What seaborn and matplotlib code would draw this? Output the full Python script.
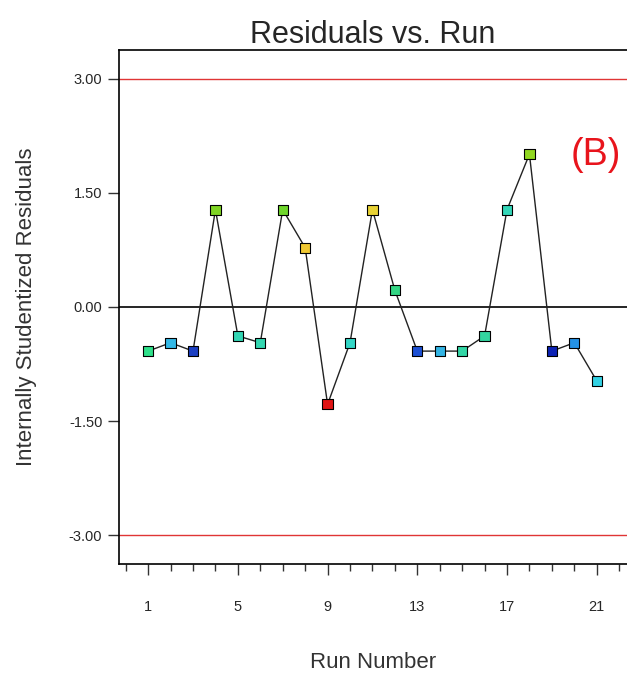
import numpy as np
import pandas as pd
import matplotlib
matplotlib.use('Agg')
import matplotlib.pyplot as plt
import seaborn as sns
from matplotlib.ticker import MultipleLocator

# Datos
runs = list(range(1, 22))
residuals = [-0.58, -0.47, -0.58, 1.28, -0.38, -0.47, 1.28, 0.78, -1.28, -0.47,
             1.28, 0.22, -0.58, -0.58, -0.58, -0.38, 1.28, 2.01, -0.58, -0.47, -0.97]
point_colors = ['#2fe08a', '#33b8e6', '#1c3fc2', '#7fd424', '#33d6b4', '#33d6b0',
                '#6fd62c', '#f0c832', '#e01414', '#33d6c6', '#e8d234', '#33d684',
                '#1c50d4', '#33b4e4', '#33d6a6', '#33d6a0', '#33d6b8', '#92d822',
                '#0c22b4', '#2492e6', '#33d2e4']
y_ticks = [-3.0, -1.5, 0.0, 1.5, 3.0]
x_ticks = [1, 5, 9, 13, 17, 21]
limit = 3.0

df = pd.DataFrame({'run': runs, 'residual': residuals})

sns.set_style('white')
plt.rcParams['font.family'] = ['Liberation Sans', 'DejaVu Sans']

fig = plt.figure(figsize=(6.27, 6.73), dpi=100)
ax = fig.add_axes([119 / 627, 1 - 564 / 673, 1 - 119 / 627, (564 - 50) / 673])

# Lineas de referencia
ax.axhline(limit, color='#e03535', lw=1)
ax.axhline(-limit, color='#e03535', lw=1)
ax.axhline(0, color='black', lw=1.2)

sns.lineplot(data=df, x='run', y='residual', color='#222222', lw=1, ax=ax, zorder=3)
sns.scatterplot(data=df, x='run', y='residual', hue='run',
                palette=dict(zip(runs, point_colors)), legend=False,
                marker='s', s=55, edgecolor='black', linewidth=0.8, ax=ax, zorder=4)

ax.set_xlim(-0.3, 22.35)
ax.set_ylim(-3.38, 3.38)
ax.set_xticks(x_ticks)
ax.xaxis.set_minor_locator(MultipleLocator(1))
ax.set_yticks(y_ticks)
ax.set_yticklabels([f'{v:.2f}' for v in y_ticks])
ax.tick_params(axis='both', which='major', direction='out', length=8, width=1,
               color='#333333', labelsize=10.5, bottom=True, left=True)
ax.tick_params(axis='x', which='minor', direction='out', length=5, width=1,
               color='#333333', bottom=True)
ax.tick_params(axis='x', pad=18)
ax.tick_params(axis='y', pad=4)

for side in ['left', 'bottom', 'top']:
    ax.spines[side].set_color('black')
    ax.spines[side].set_linewidth(1.2)
ax.spines['right'].set_visible(False)

ax.set_title('Residuals vs. Run', fontsize=22, pad=4)
ax.set_xlabel('Run Number', fontsize=16, labelpad=27, color='#333333')
ax.set_ylabel('Internally Studentized Residuals', fontsize=16, labelpad=23, color='#333333')

ax.text(20.95, 2.0, '(B)', color='#e8141c', fontsize=27, ha='center', va='center')

fig.savefig('out.png', dpi=100)
